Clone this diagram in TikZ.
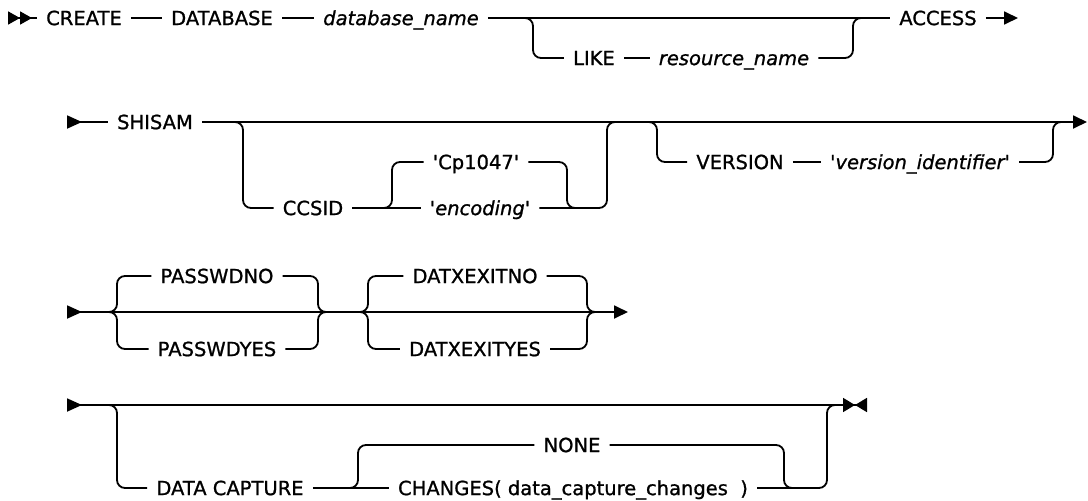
\documentclass[tikz,border=0pt]{standalone}
\usepackage{fontspec}
\setmainfont{DejaVu Sans}[FakeBold=1.0]
\usetikzlibrary{arrows.meta, calc}
\tikzset{
    rrword/.style={inner xsep=9pt, inner ysep=0pt, text height=14.2pt, text depth=0pt, font=\fontsize{19.5}{23}\selectfont},
    rrvar/.style={rrword, font=\fontsize{19.5}{23}\selectfont\itshape},
    rrline/.style={line width=1.8pt, rounded corners=8pt},
    rrdouble/.style={{Triangle[reversed, length=12pt, width=13pt]Triangle[reversed, length=12pt, width=13pt]}-},
    rrbegin/.style={{Triangle[reversed, length=15pt, width=13pt]}-},
    rrend/.style={-{Triangle[length=14pt, width=13pt]}},
    rrstop/.style={-{Triangle[length=12pt, width=14pt]Triangle[reversed, length=12pt, width=14pt]}}
}

\begin{document}
\begin{tikzpicture}[x=1pt, y=-1pt]
\useasboundingbox (0,0) rectangle (1088,501);

\coordinate (s1) at (8,18);
\node[rrword] (create) at (84,18) {CREATE};
\node[rrword] (database) at (222,18) {DATABASE};
\node[rrvar] (dbname) at (401,18) {database\_name};
\node[rrword] (like) at (594,58) {LIKE};
\node[rrvar] (resname) at (734,58) {resource\_name};
\node[rrword] (access) at (938,18) {ACCESS};
\coordinate (e1) at (1018,18);
\coordinate (j1) at (523,18);
\coordinate (j2) at (863,18);

\draw[rrline, rrdouble] (s1) -- (create);
\draw[rrline] (create) -- (database);
\draw[rrline] (database) -- (dbname);
\draw[rrline] (dbname) -- (access);
\draw[rrline] (j1) -- ++(10,0) |- (like);
\draw[rrline] (like) -- (resname);
\draw[rrline] (resname) -| ($(j2)+(-10,0)$) -- (j2);
\draw[rrline, rrend] (access) -- (e1);

\coordinate (s2) at (67,122);
\node[rrword] (shisam) at (155,122) {SHISAM};
\coordinate (e2) at (1087,122);
\coordinate (j3) at (233,122);
\node[rrword] (ccsid) at (313,208) {CCSID};
\node[rrword] (cp) at (476,162) {\textquotesingle Cp1047\textquotesingle};
\node[rrvar] (enc) at (480,208) {\textquotesingle encoding\textquotesingle};
\coordinate (j4) at (383,208);
\coordinate (j5) at (576,208);
\coordinate (j6) at (617,122);
\coordinate (j7) at (647,122);
\node[rrword] (version) at (740,162) {VERSION};
\node[rrvar] (verid) at (920,162) {\textquotesingle version\_identifier\textquotesingle};
\coordinate (j8) at (1063,122);

\draw[rrline, rrbegin] (s2) -- (shisam);
\draw[rrline, rrend] (shisam) -- (e2);
\draw[rrline] (j3) -- ++(10,0) |- (ccsid);
\draw[rrline] (ccsid) -- (enc);
\draw[rrline] (j4) -- ++(9,0) |- (cp);
\draw[rrline] (cp) -| ($(j5)+(-9,0)$) -- (j5);
\draw[rrline] (enc) -| ($(j6)+(-10,0)$) -- (j6);
\draw[rrline] (j7) -- ++(10,0) |- (version);
\draw[rrline] (version) -- (verid);
\draw[rrline] (verid) -| ($(j8)+(-10,0)$) -- (j8);

\coordinate (s3) at (67,312);
\coordinate (e3) at (628,312);
\node[rrword] (pwno) at (217,276) {PASSWDNO};
\node[rrword] (pwyes) at (217,349) {PASSWDYES};
\node[rrword] (dxno) at (475,276) {DATXEXITNO};
\node[rrword] (dxyes) at (475,349) {DATXEXITYES};
\coordinate (j9) at (107,312);
\coordinate (j10) at (327,312);
\coordinate (j11) at (358,312);
\coordinate (j12) at (596,312);

\draw[rrline, rrbegin] (s3) -- (j9);
\draw[rrline] (j9) -- (j12);
\draw[rrline, rrend] (j12) -- (e3);
\draw[rrline] (j9) -- ++(10,0) |- (pwno);
\draw[rrline] (j9) -- ++(10,0) |- (pwyes);
\draw[rrline] (pwno) -| ($(j10)+(-9,0)$) -- (j10);
\draw[rrline] (pwyes) -| ($(j10)+(-9,0)$) -- (j10);
\draw[rrline] (j11) -- ++(10,0) |- (dxno);
\draw[rrline] (j11) -- ++(10,0) |- (dxyes);
\draw[rrline] (dxno) -| ($(j12)+(-9,0)$) -- (j12);
\draw[rrline] (dxyes) -| ($(j12)+(-9,0)$) -- (j12);

\coordinate (s4) at (67,405);
\coordinate (e4) at (867,405);
\coordinate (j13) at (107,405);
\node[rrword] (dcap) at (230,488) {DATA CAPTURE};
\node[rrword] (none) at (572,445) {NONE};
\node[rrword] (chg) at (573,488) {CHANGES( data\_capture\_changes\ \ )};
\coordinate (j14) at (350,488);
\coordinate (j15) at (793,488);
\coordinate (j16) at (836,405);

\draw[rrline, rrbegin] (s4) -- (j13);
\draw[rrline] (j13) -- (j16);
\draw[rrline, rrstop] (j16) -- (e4);
\draw[rrline] (j13) -- ++(10,0) |- (dcap);
\draw[rrline] (dcap) -- (chg);
\draw[rrline] (j14) -- ++(8,0) |- (none);
\draw[rrline] (none) -| ($(j15)+(-9,0)$) -- (j15);
\draw[rrline] (chg) -| ($(j16)+(-9,0)$) -- (j16);

\end{tikzpicture}
\end{document}
